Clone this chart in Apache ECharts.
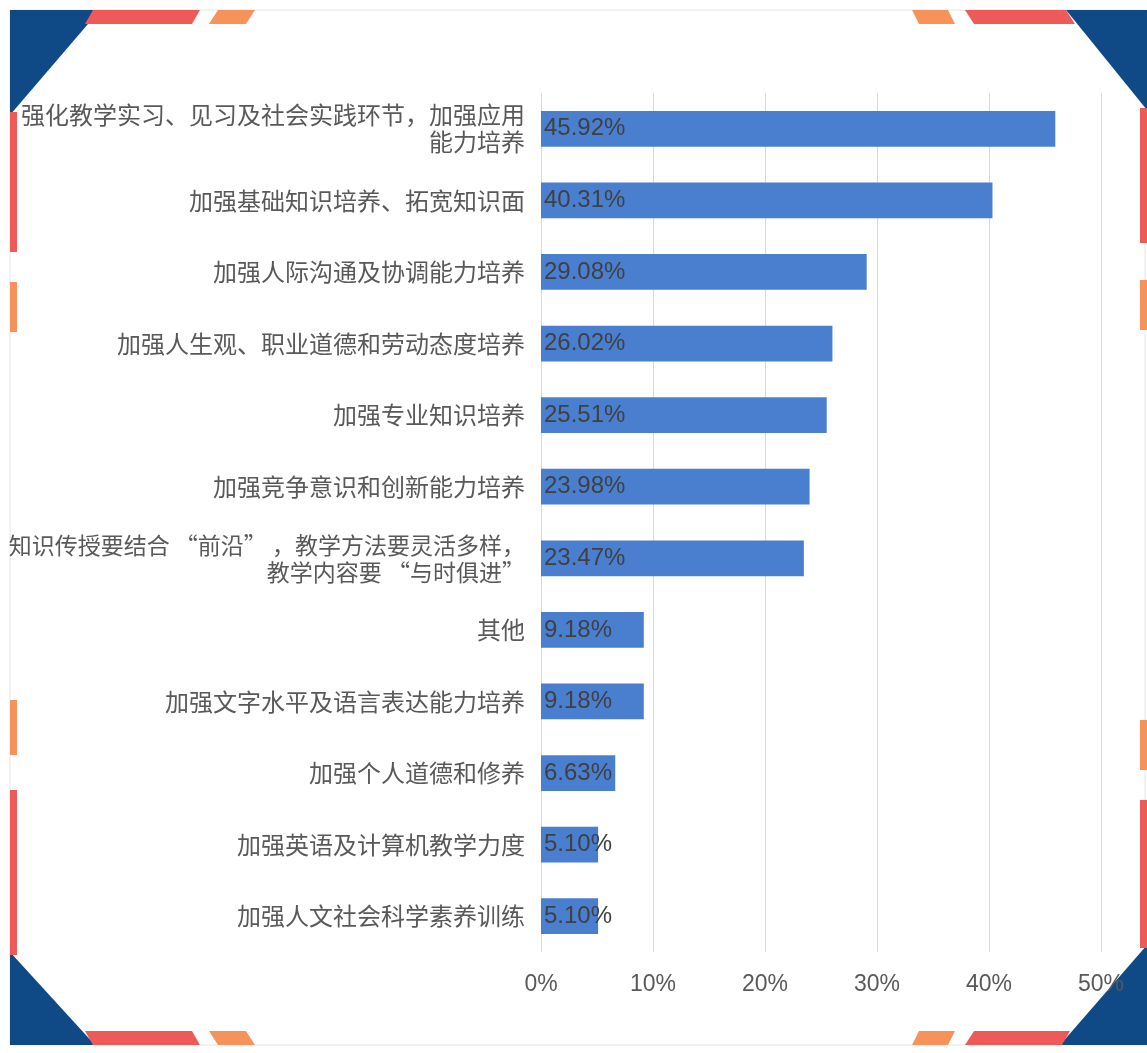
<!DOCTYPE html>
<html>
<head>
<meta charset="utf-8">
<script src="https://cdn.jsdelivr.net/npm/echarts@6/dist/echarts.min.js"></script>
<style>
  html, body { margin: 0; padding: 0; background: #fff; }
  #chart1 { width: 1147px; height: 1053px; }
</style>
</head>
<body>
<div id="chart1"></div>
<script>
// 建议项目及占比
var categoryList = [
  '强化教学实习、见习及社会实践环节，加强应用\n能力培养',
  '加强基础知识培养、拓宽知识面',
  '加强人际沟通及协调能力培养',
  '加强人生观、职业道德和劳动态度培养',
  '加强专业知识培养',
  '加强竞争意识和创新能力培养',
  '知识传授要结合 “前沿” ，教学方法要灵活多样，\n教学内容要 “与时俱进”',
  '其他',
  '加强文字水平及语言表达能力培养',
  '加强个人道德和修养',
  '加强英语及计算机教学力度',
  '加强人文社会科学素养训练'
];
var valueList = [45.92, 40.31, 29.08, 26.02, 25.51, 23.98, 23.47, 9.18, 9.18, 6.63, 5.10, 5.10];
var tickList = [0, 10, 20, 30, 40, 50];

var navy = '#0f4a86';
var red = '#ee5a57';
var orange = '#f6935a';

// 边框装饰
var frame = [
  {type: 'rect', shape: {x: 10, y: 10, width: 1135, height: 1035}, style: {fill: '#fff', stroke: '#e6e6e6', lineWidth: 1}, z: -10},
  {type: 'polygon', shape: {points: [[10, 10], [100, 10], [10, 115]]}, style: {fill: navy}},
  {type: 'polygon', shape: {points: [[93, 10], [200, 10], [192, 24], [85, 24]]}, style: {fill: red}},
  {type: 'polygon', shape: {points: [[218, 10], [255, 10], [246, 24], [209, 24]]}, style: {fill: orange}},
  {type: 'polygon', shape: {points: [[1066, 10], [1147, 10], [1147, 110]]}, style: {fill: navy}},
  {type: 'polygon', shape: {points: [[965, 10], [1066, 10], [1075, 24], [974, 24]]}, style: {fill: red}},
  {type: 'polygon', shape: {points: [[912, 10], [948, 10], [955, 24], [919, 24]]}, style: {fill: orange}},
  {type: 'polygon', shape: {points: [[10, 952], [10, 1045], [95, 1045]]}, style: {fill: navy}},
  {type: 'polygon', shape: {points: [[85, 1031], [192, 1031], [200, 1045], [93, 1045]]}, style: {fill: red}},
  {type: 'polygon', shape: {points: [[209, 1031], [246, 1031], [255, 1045], [218, 1045]]}, style: {fill: orange}},
  {type: 'polygon', shape: {points: [[1147, 945], [1147, 1045], [1060, 1045]]}, style: {fill: navy}},
  {type: 'polygon', shape: {points: [[974, 1031], [1070, 1031], [1062, 1045], [965, 1045]]}, style: {fill: red}},
  {type: 'polygon', shape: {points: [[919, 1031], [955, 1031], [948, 1045], [912, 1045]]}, style: {fill: orange}},
  {type: 'rect', shape: {x: 10, y: 112, width: 7, height: 140}, style: {fill: red}},
  {type: 'rect', shape: {x: 10, y: 282, width: 7, height: 50}, style: {fill: orange}},
  {type: 'rect', shape: {x: 10, y: 700, width: 7, height: 55}, style: {fill: orange}},
  {type: 'rect', shape: {x: 10, y: 790, width: 7, height: 165}, style: {fill: red}},
  {type: 'rect', shape: {x: 1140, y: 108, width: 7, height: 135}, style: {fill: red}},
  {type: 'rect', shape: {x: 1140, y: 280, width: 7, height: 50}, style: {fill: orange}},
  {type: 'rect', shape: {x: 1140, y: 720, width: 7, height: 50}, style: {fill: orange}},
  {type: 'rect', shape: {x: 1140, y: 800, width: 7, height: 148}, style: {fill: red}}
];

var chart1 = echarts.init(document.getElementById('chart1'));
chart1.setOption({
  backgroundColor: '#ffffff',
  animation: false,
  graphic: frame,
  grid: {
    left: 541,
    right: 46,
    top: 93,
    bottom: 101
  },
  xAxis: {
    type: 'value',
    min: tickList[0],
    max: tickList[tickList.length - 1],
    interval: 10,
    axisLine: {show: false},
    axisTick: {show: false},
    splitLine: {lineStyle: {color: '#d9d9d9', width: 1}},
    axisLabel: {
      formatter: '{value}%',
      color: '#595959',
      fontSize: 23,
      margin: 21,
      fontFamily: 'Liberation Sans, Arial, sans-serif'
    }
  },
  yAxis: {
    type: 'category',
    inverse: true,
    data: categoryList,
    axisLine: {show: false},
    axisTick: {show: false},
    axisLabel: {
      color: '#595959',
      fontSize: 24,
      lineHeight: 27,
      margin: 16,
      align: 'right',
      fontFamily: 'Noto Sans CJK SC, sans-serif',
      formatter: function(v) {
        if (v.indexOf('前沿') < 0) {
          return v;
        }
        return v.split('\n').map(function(l) { return '{s|' + l + '}'; }).join('\n');
      },
      rich: {
        s: {fontSize: 23, lineHeight: 27, color: '#595959', fontFamily: 'Noto Sans CJK SC, sans-serif'}
      }
    }
  },
  series: [{
    type: 'bar',
    data: valueList,
    barWidth: '50%',
    itemStyle: {color: '#4a7fcf'},
    label: {
      show: true,
      position: 'insideLeft',
      distance: 3,
      formatter: function(p) { return p.value.toFixed(2) + '%'; },
      color: '#404040',
      fontSize: 24,
      letterSpacing: 2,
      fontFamily: 'Liberation Sans, Arial, sans-serif'
    }
  }]
});
</script>
</body>
</html>
